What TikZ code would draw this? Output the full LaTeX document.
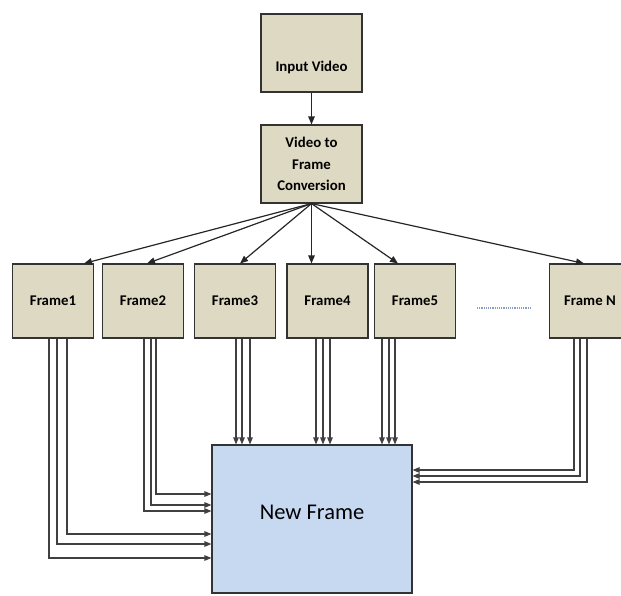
\documentclass[tikz,border=0pt]{standalone}
\usepackage{fontspec}
\setmainfont{Carlito}
\usetikzlibrary{arrows.meta}
\definecolor{tanfill}{HTML}{DDD9C3}
\definecolor{bluefill}{HTML}{C6D9F1}
\definecolor{dotblue}{HTML}{8C9DC4}

\begin{document}
\begin{tikzpicture}[x=1pt,y=-1pt,
  blk/.style={draw=black!80,line width=1.1pt,fill=tanfill,minimum width=81pt,
    minimum height=74pt,inner sep=2pt,align=center,
    font=\bfseries\fontsize{14.8}{21.5}\selectfont},
  tip/.style={-{Triangle[length=8pt,width=6.5pt]},line width=1.2pt,draw=black!85},
  feed/.style={-{Triangle[length=7pt,width=5.5pt]},line width=1.1pt,draw=black!75}]
\useasboundingbox (0,0) rectangle (621,595);

\node[blk,minimum width=101pt,minimum height=78pt,text height=36pt,text depth=0pt] (input) at (311.5,53) {Input Video};
\node[blk,minimum width=101pt,minimum height=78pt] (conv) at (311.5,164) {Video to\\Frame\\Conversion};

\node[blk] (f1) at (53,301) {Frame1};
\node[blk] (f2) at (143,301) {Frame2};
\node[blk] (f3) at (235,301) {Frame3};
\node[blk] (f4) at (327.5,301) {Frame4};
\node[blk] (f5) at (415,301) {Frame5};
\node[blk] (fN) at (590,301) {Frame N};

\node[draw=black!80,line width=1.1pt,fill=bluefill,minimum width=200pt,minimum height=148pt,
  text depth=14pt,font=\fontsize{22.5}{26}\selectfont] (new) at (312,519) {New Frame};

\draw[tip] (input) -- (conv);
\draw[tip] (conv.south) -- ([xshift=31pt]f1.north);
\draw[tip] (conv.south) -- ([xshift=4pt]f2.north);
\draw[tip] (conv.south) -- ([xshift=5pt]f3.north);
\draw[tip] (conv.south) -- (conv.south |- f4.north);
\draw[tip] (conv.south) -- ([xshift=-17pt]f5.north);
\draw[tip] (conv.south) -- ([xshift=-6pt]fN.north);

\draw[dotblue,line width=1.3pt,dash pattern=on 1.2pt off 1pt] ([xshift=21pt,yshift=-7pt]f5.east) -- ([xshift=-17pt,yshift=-7pt]fN.west);

\foreach \dx/\dy in {-4/39,4/25,14/15}
  \draw[feed] ([xshift=\dx pt]f1.south) |- ([yshift=-\dy pt]new.west);
\foreach \dx/\dy in {1/8,8/14,13/25}
  \draw[feed] ([xshift=\dx pt]f2.south) |- ([yshift=\dy pt]new.west);
\foreach \dx in {1,7,15}
  \draw[feed] ([xshift=\dx pt]f3.south) -- ([xshift=\dx pt]f3.south |- new.north);
\foreach \dx in {-11.5,-4.5,2.5}
  \draw[feed] ([xshift=\dx pt]f4.south) -- ([xshift=\dx pt]f4.south |- new.north);
\foreach \dx in {-33,-26,-20}
  \draw[feed] ([xshift=\dx pt]f5.south) -- ([xshift=\dx pt]f5.south |- new.north);
\foreach \dx/\dy in {-16/49,-10/43,-3/37}
  \draw[feed] ([xshift=\dx pt]fN.south) |- ([yshift=\dy pt]new.east);
\end{tikzpicture}
\end{document}
